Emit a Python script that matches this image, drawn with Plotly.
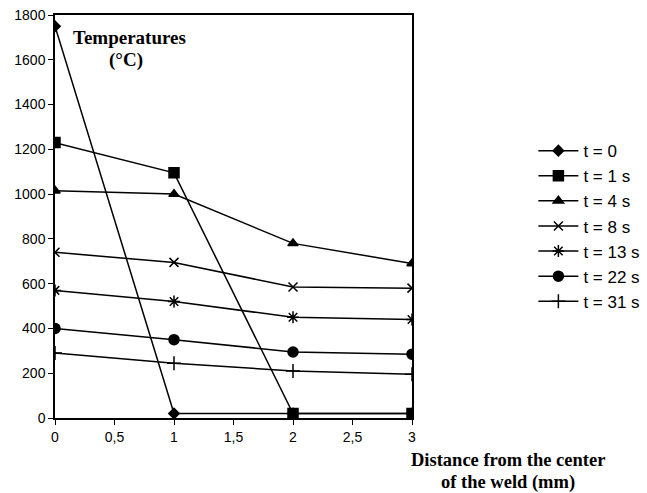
import plotly.graph_objects as go

distance = [0, 1, 2, 3]
series_names = ["t = 0", "t = 1 s", "t = 4 s", "t = 8 s", "t = 13 s", "t = 22 s", "t = 31 s"]
t0 = [1750, 20, 20, 20]
t1 = [1230, 1095, 20, 20]
t4 = [1015, 1000, 780, 690]
t8 = [740, 695, 585, 580]
t13 = [570, 520, 450, 440]
t22 = [400, 350, 295, 285]
t31 = [290, 245, 210, 195]
series_values = [t0, t1, t4, t8, t13, t22, t31]
markers = ["diamond", "square", "triangle-up", "x-thin-open", "asterisk-open", "circle", "cross-thin-open"]
sizes = [8, 10, 9, 9, 10, 10, 10]

fig = go.Figure()
for name, vals, sym, sz in zip(series_names, series_values, markers, sizes):
    fig.add_trace(go.Scatter(
        x=distance, y=vals, name=name, mode="lines+markers",
        line=dict(color="black", width=1.5),
        marker=dict(symbol=sym, size=sz, color="black",
                    line=dict(color="black", width=1.5)),
    ))

serif = dict(family="Liberation Serif, Times New Roman, serif", size=19)
serif2 = dict(family="Liberation Serif, Times New Roman, serif", size=18.5)

fig.update_layout(
    width=647, height=493,
    margin=dict(l=55, r=235, t=15, b=75, autoexpand=False),
    paper_bgcolor="white", plot_bgcolor="white",
    separators=", ",
    font=dict(family="Arial, Liberation Sans, sans-serif", size=14, color="black"),
    showlegend=True,
    legend=dict(x=1.34, y=0.707, xanchor="left", yanchor="top",
                font=dict(size=17), tracegroupgap=0, itemwidth=40,
                bgcolor="rgba(0,0,0,0)"),
    xaxis=dict(range=[0, 3], dtick=0.5, showline=True, linecolor="black", linewidth=1.5,
               mirror=True, ticks="outside", ticklen=5, tickcolor="black",
               showgrid=False, zeroline=False, tickformat=".1~f"),
    yaxis=dict(range=[0, 1800], dtick=200, showline=True, linecolor="black", linewidth=1.5,
               mirror=True, ticks="outside", ticklen=5, tickcolor="black",
               showgrid=False, zeroline=False),
    annotations=[
        dict(text="<b>Temperatures</b>", xref="paper", yref="paper",
             x=0.21, y=0.945, xanchor="center", yanchor="middle", showarrow=False, font=serif),
        dict(text="<b>(°C)</b>", xref="paper", yref="paper",
             x=0.199, y=0.888, xanchor="center", yanchor="middle", showarrow=False, font=serif),
        dict(text="<b>Distance from the center</b>", xref="paper", yref="paper",
             x=1.269, y=-0.104, xanchor="center", yanchor="middle", showarrow=False, font=serif2),
        dict(text="<b>of the weld (mm)</b>", xref="paper", yref="paper",
             x=1.269, y=-0.161, xanchor="center", yanchor="middle", showarrow=False, font=serif2),
    ],
)

fig.write_html("out.html")
